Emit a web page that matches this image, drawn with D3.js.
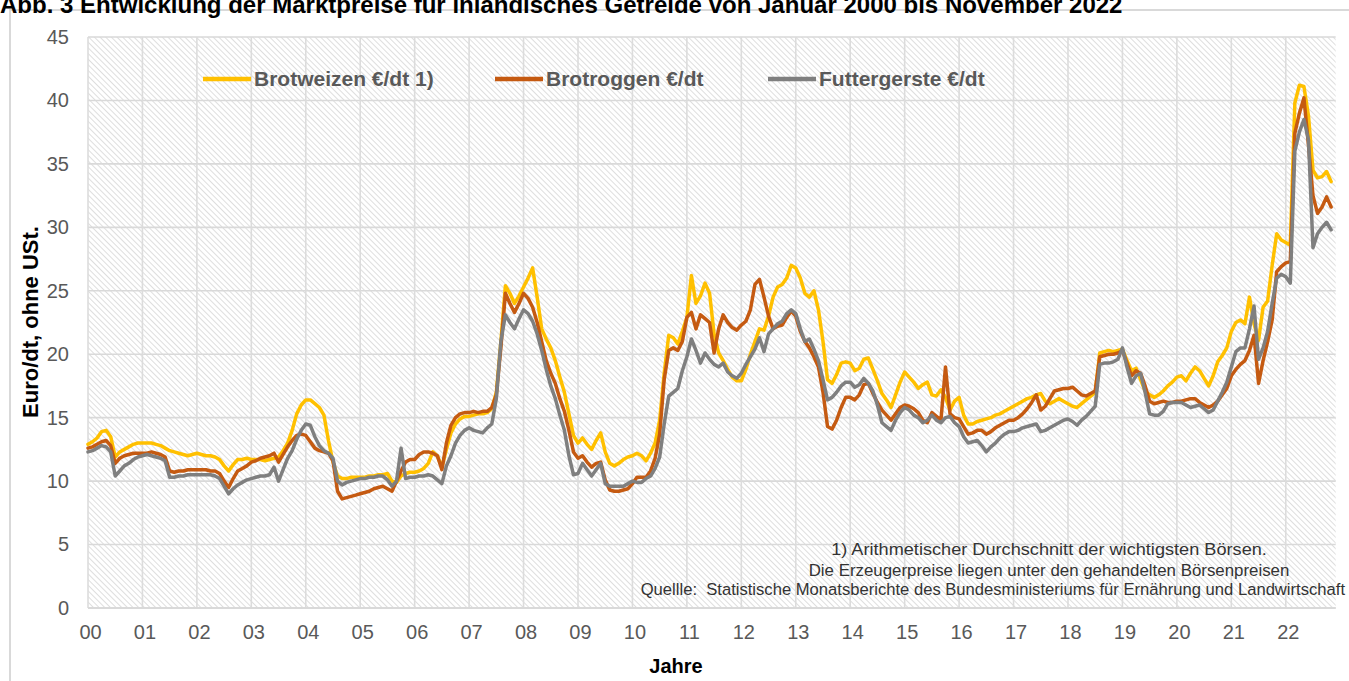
<!DOCTYPE html>
<html><head><meta charset="utf-8">
<script src="https://cdn.jsdelivr.net/npm/d3@7"></script>
<style>
html,body{margin:0;padding:0;background:#fff;}
svg{display:block;font-family:"Liberation Sans",Arial,sans-serif;}
</style></head>
<body>
<svg id="chart" width="1349" height="681"></svg>
<script>
// ---------- DATA (monthly, Jan 2000 – Nov 2022) ----------
const yearLabels = ["00","01","02","03","04","05","06","07","08","09","10","11","12","13","14","15","16","17","18","19","20","21","22"];
const yTicks = [0,5,10,15,20,25,30,35,40,45];
const seriesNames = ["Brotweizen €/dt 1)","Brotroggen €/dt","Futtergerste €/dt"];

const brotweizen = [
12.9,13.1,13.4,13.9,14.0,13.5,11.9,12.3,12.5,12.7,12.9,13.0,
13.0,13.0,13.0,12.9,12.8,12.6,12.4,12.3,12.2,12.1,12.0,12.1,
12.2,12.1,12.0,12.0,11.9,11.7,11.2,10.8,11.3,11.7,11.7,11.8,
11.7,11.7,11.7,11.6,11.7,11.8,11.9,12.4,13.0,14.0,15.3,16.0,
16.4,16.4,16.1,15.8,15.2,13.2,11.5,10.4,10.2,10.2,10.3,10.3,
10.3,10.3,10.4,10.4,10.5,10.5,10.6,10.0,9.9,10.4,10.6,10.7,
10.7,10.8,11.0,11.4,12.3,12.0,11.1,12.5,13.8,14.5,14.9,15.1,
15.1,15.2,15.3,15.3,15.4,15.7,17.0,21.0,25.4,24.8,24.0,24.6,
25.3,26.0,26.8,24.5,22.0,21.2,20.5,19.5,18.2,17.0,15.3,13.6,
13.0,13.4,12.9,12.5,13.2,13.8,12.3,11.4,11.2,11.4,11.7,11.9,
12.0,12.2,12.0,11.6,12.2,13.0,14.8,18.5,21.5,21.3,20.8,21.8,
22.9,26.2,24.0,24.6,25.6,24.8,21.6,20.1,19.5,18.8,18.2,17.9,
17.9,18.8,20.0,21.0,22.0,21.9,23.0,24.5,25.3,25.5,26.0,27.0,
26.8,26.0,24.8,24.5,25.0,23.5,21.0,18.0,17.7,18.4,19.3,19.4,
19.3,18.7,18.9,19.6,19.7,18.8,17.9,16.9,16.4,15.8,16.8,17.8,
18.6,18.2,17.8,17.3,17.6,17.8,16.8,16.7,17.2,16.6,15.6,16.3,
16.6,15.2,14.5,14.5,14.7,14.8,14.9,15.0,15.2,15.3,15.5,15.7,
15.9,16.1,16.3,16.5,16.6,16.8,16.9,16.3,16.1,16.3,16.5,16.3,
16.1,15.9,15.8,16.1,16.4,16.7,17.0,20.1,20.2,20.3,20.2,20.3,
20.4,19.5,18.7,18.9,18.0,17.1,16.8,16.6,16.8,17.1,17.5,17.8,
18.2,18.3,17.9,18.5,19.0,18.7,18.1,17.5,18.3,19.4,19.9,20.5,
21.8,22.5,22.7,22.4,24.5,22.4,21.1,23.7,24.2,27.0,29.5,29.0,
28.8,28.6,39.8,41.2,41.1,38.8,34.5,33.9,34.0,34.4,33.6
];

const brotroggen = [
12.6,12.7,12.9,13.1,13.2,12.8,11.4,11.8,12.0,12.1,12.2,12.2,
12.2,12.2,12.3,12.2,12.1,11.9,10.8,10.7,10.8,10.8,10.9,10.9,
10.9,10.9,10.9,10.8,10.8,10.6,10.0,9.5,10.2,10.8,11.0,11.2,
11.5,11.6,11.8,11.9,12.0,12.2,11.5,12.1,12.7,13.2,13.6,13.7,
13.6,13.1,12.6,12.4,12.3,12.2,11.6,9.2,8.6,8.7,8.8,8.9,
9.0,9.1,9.2,9.4,9.5,9.6,9.4,9.2,10.0,10.8,11.5,11.7,
11.7,12.1,12.3,12.3,12.2,12.0,10.9,13.0,14.4,15.0,15.3,15.4,
15.4,15.5,15.4,15.5,15.5,15.8,16.8,20.5,24.8,24.0,23.3,24.0,
24.8,24.4,23.7,22.5,21.0,19.5,18.5,17.7,16.5,15.5,14.0,12.3,
11.8,12.0,11.5,11.1,11.4,11.5,10.1,9.3,9.2,9.2,9.3,9.4,
9.8,10.3,10.3,10.3,10.8,11.8,13.7,18.0,20.3,20.5,20.3,21.0,
22.9,23.3,22.0,23.1,22.8,22.5,20.1,22.0,23.1,22.5,22.1,21.9,
22.3,22.6,23.5,25.5,25.9,24.5,23.0,22.0,22.2,22.3,22.9,23.4,
23.0,21.8,21.0,20.5,19.8,19.0,17.0,14.3,14.1,14.8,15.8,16.6,
16.6,16.4,16.8,17.6,17.7,16.9,16.2,15.6,15.2,14.8,15.3,15.8,
16.0,15.9,15.7,15.4,14.8,14.6,15.4,15.1,14.8,19.0,15.3,15.0,
14.9,14.3,13.7,13.8,14.0,14.0,13.7,13.9,14.2,14.4,14.6,14.8,
14.8,15.0,15.3,15.7,16.2,16.8,15.6,15.9,16.5,17.1,17.2,17.3,
17.3,17.4,17.1,16.8,16.7,16.9,17.1,19.8,19.9,20.0,20.0,20.1,
20.3,19.3,18.3,18.7,18.5,17.5,16.3,16.1,16.2,16.3,16.2,16.2,
16.3,16.3,16.4,16.5,16.5,16.2,16.0,15.8,16.0,16.3,16.8,17.3,
18.3,18.8,19.2,19.5,20.3,21.5,17.7,19.5,21.0,22.7,26.5,26.9,
27.2,27.3,37.4,39.0,40.2,36.5,32.5,31.1,31.6,32.4,31.6
];

const futtergerste = [
12.3,12.4,12.6,12.8,12.7,12.3,10.4,10.8,11.2,11.4,11.7,11.9,
12.0,12.1,12.0,11.9,11.8,11.6,10.3,10.3,10.4,10.4,10.5,10.5,
10.5,10.5,10.5,10.5,10.4,10.2,9.6,9.0,9.4,9.7,9.9,10.1,
10.2,10.3,10.4,10.4,10.5,11.1,10.0,10.9,11.8,12.4,13.3,14.0,
14.5,14.4,13.5,12.8,12.4,12.2,11.8,10.0,9.7,9.9,10.0,10.1,
10.2,10.2,10.3,10.3,10.4,10.4,10.1,9.6,10.0,12.6,10.2,10.3,
10.3,10.4,10.4,10.5,10.4,10.1,9.8,11.2,12.0,13.0,13.6,14.0,
14.2,14.0,13.9,13.8,14.2,14.5,16.5,21.0,23.1,22.5,22.0,22.8,
23.5,23.2,22.6,21.6,20.3,18.8,17.5,16.5,15.2,14.0,12.0,10.5,
10.6,11.4,10.9,10.4,10.9,11.4,9.8,9.6,9.6,9.6,9.6,9.8,
10.0,9.9,9.9,10.2,10.4,11.0,11.9,14.5,16.7,17.0,17.3,18.7,
19.8,21.2,20.3,19.3,20.1,19.6,19.2,19.0,19.3,18.6,18.3,18.1,
18.5,19.2,19.8,20.4,21.3,20.2,21.6,22.0,22.4,22.6,23.2,23.5,
23.2,22.0,21.0,21.2,20.4,19.5,18.0,16.4,16.6,17.0,17.5,17.8,
17.8,17.4,17.6,18.1,17.7,17.1,16.0,14.6,14.3,14.0,14.8,15.4,
15.8,15.6,15.2,15.0,14.6,14.8,15.2,14.8,14.6,15.0,15.1,14.6,
14.3,13.5,13.0,13.1,13.2,12.8,12.3,12.7,13.0,13.4,13.7,13.9,
13.9,14.0,14.2,14.3,14.4,14.5,13.9,14.0,14.2,14.4,14.6,14.8,
14.9,14.7,14.4,14.8,15.1,15.5,15.9,19.2,19.3,19.3,19.4,19.6,
20.5,19.0,17.7,18.3,18.5,17.0,15.3,15.2,15.2,15.5,16.1,16.2,
16.2,16.2,16.0,15.8,15.9,16.0,15.7,15.4,15.6,16.3,17.0,17.8,
19.0,20.2,20.5,20.5,22.0,23.8,19.6,20.5,21.8,24.0,26.0,26.3,
26.1,25.6,36.0,37.5,38.5,36.9,28.4,29.5,30.0,30.4,29.8
];

const titleText = "Abb. 3 Entwicklung der Marktpreise für inländisches Getreide von Januar 2000 bis November 2022";
const yTitle = "Euro/dt, ohne USt.";
const xTitle = "Jahre";
const note1 = "1) Arithmetischer Durchschnitt der wichtigsten Börsen.";
const note2 = "Die Erzeugerpreise liegen unter den gehandelten Börsenpreisen";
const source = "Quellle:  Statistische Monatsberichte des Bundesministeriums für Ernährung und Landwirtschaft";

// ---------- LAYOUT ----------
const colors = ["#FFC000","#C55A11","#7F7F7F"];
const series = [brotweizen, brotroggen, futtergerste];
const svg = d3.select("#chart");
const pLeft = 88, pTop = 37, pBottom = 608;
const nSlots = 275, monthW = 4.537;
const pRight = pLeft + nSlots*monthW;

const x = d3.scaleLinear().domain([0, nSlots]).range([pLeft, pRight]);
const y = d3.scaleLinear().domain([0, 45]).range([pBottom, pTop]);

function fit(sel, target, size){
  sel.attr("font-size", size);
  const w = sel.node().getComputedTextLength();
  if (w > 0) sel.attr("font-size", (size*target/w).toFixed(2));
}
// condensed text: keep the glyph height, squeeze horizontally to the target width
function condensed(px, py, anchor, txt, target, size){
  const g = svg.append("g");
  const tx = g.append("text").attr("text-anchor",anchor).attr("font-size",size)
    .attr("fill","#333").style("white-space","pre").text(txt);
  const w = tx.node().getComputedTextLength();
  const sx = w > 0 ? target / w : 1;
  g.attr("transform",`translate(${px},${py}) scale(${sx.toFixed(4)},1)`);
  return tx;
}

// outer frame
svg.append("rect").attr("x",10).attr("y",10).attr("width",1360).attr("height",700)
  .attr("fill","#fff").attr("stroke","#d9d9d9").attr("stroke-width",2);

// title (partially clipped at top, as in the source image)
const t = svg.append("text").attr("x",0).attr("y",13).attr("font-weight","bold")
  .attr("fill","#000").text(titleText);
fit(t, 1123, 20);

// hatch pattern
const defs = svg.append("defs");
const pat = defs.append("pattern").attr("id","hatch").attr("patternUnits","userSpaceOnUse")
  .attr("width",4).attr("height",4).attr("patternTransform","rotate(-45)");
pat.append("rect").attr("width",4).attr("height",4).attr("fill","#ffffff");
pat.append("line").attr("x1",0).attr("y1",0).attr("x2",0).attr("y2",4)
  .attr("stroke","#cdcdcd").attr("stroke-width",1.3);

svg.append("rect").attr("x",pLeft).attr("y",pTop).attr("width",pRight-pLeft).attr("height",pBottom-pTop)
  .attr("fill","url(#hatch)");

// gridlines
const yearTicks = yearLabels.map((d,i)=>i*12);
svg.append("g").selectAll("line").data(yTicks).join("line")
  .attr("x1",pLeft).attr("x2",pRight).attr("y1",d=>y(d)).attr("y2",d=>y(d))
  .attr("stroke","#d9d9d9").attr("stroke-width",1.6);
svg.append("g").selectAll("line").data(yearTicks).join("line")
  .attr("x1",d=>x(d)).attr("x2",d=>x(d)).attr("y1",pTop).attr("y2",pBottom)
  .attr("stroke","#dcdcdc").attr("stroke-width",1.6);

// axes
const yAxis = d3.axisLeft(y).tickValues(yTicks).tickSize(0).tickPadding(0);
const gy = svg.append("g").attr("transform",`translate(${pLeft-19},0)`).call(yAxis);
gy.select(".domain").remove();
gy.selectAll("text").attr("font-size",20).attr("fill","#595959")
  .attr("font-family","'Liberation Sans',Arial,sans-serif");

const xAxis = d3.axisBottom(x).tickValues(yearTicks).tickFormat((d,i)=>yearLabels[i]).tickSize(0).tickPadding(0);
const gx = svg.append("g").attr("transform",`translate(0,${pBottom+17})`).call(xAxis);
gx.select(".domain").remove();
gx.selectAll("text").attr("font-size",20).attr("fill","#595959")
  .attr("font-family","'Liberation Sans',Arial,sans-serif").attr("dx",2);

// bottom axis line
svg.append("line").attr("x1",pLeft).attr("x2",pRight).attr("y1",pBottom).attr("y2",pBottom)
  .attr("stroke","#d9d9d9").attr("stroke-width",2);

// lines
const line = d3.line().x((d,i)=>x(i)).y(d=>y(d)).curve(d3.curveLinear);
series.forEach((s,k)=>{
  svg.append("path").datum(s).attr("d",line).attr("fill","none")
    .attr("stroke",colors[k]).attr("stroke-width",3.5)
    .attr("stroke-linejoin","round").attr("stroke-linecap","round");
});

// legend
const legX = [203, 495, 768];
const legY = 79;
seriesNames.forEach((n,k)=>{
  svg.append("line").attr("x1",legX[k]).attr("x2",legX[k]+48).attr("y1",legY).attr("y2",legY)
    .attr("stroke",colors[k]).attr("stroke-width",4.5);
  svg.append("text").attr("x",legX[k]+51).attr("y",legY+7).attr("font-size",21)
    .attr("font-weight","bold").attr("fill","#595959").text(n);
});

// axis titles
svg.append("text").attr("transform","translate(38,322) rotate(-90)").attr("text-anchor","middle")
  .attr("font-size",22).attr("font-weight","bold").attr("fill","#000").text(yTitle);
svg.append("text").attr("x",676).attr("y",673).attr("text-anchor","middle")
  .attr("font-size",20).attr("font-weight","bold").attr("fill","#000").text(xTitle);

// notes (condensed look of the original)
condensed(1049, 555, "middle", note1, 436, 17);
condensed(1049, 576, "middle", note2, 481, 17);
condensed(1345, 595, "end", source, 705, 17);
</script>
</body></html>
